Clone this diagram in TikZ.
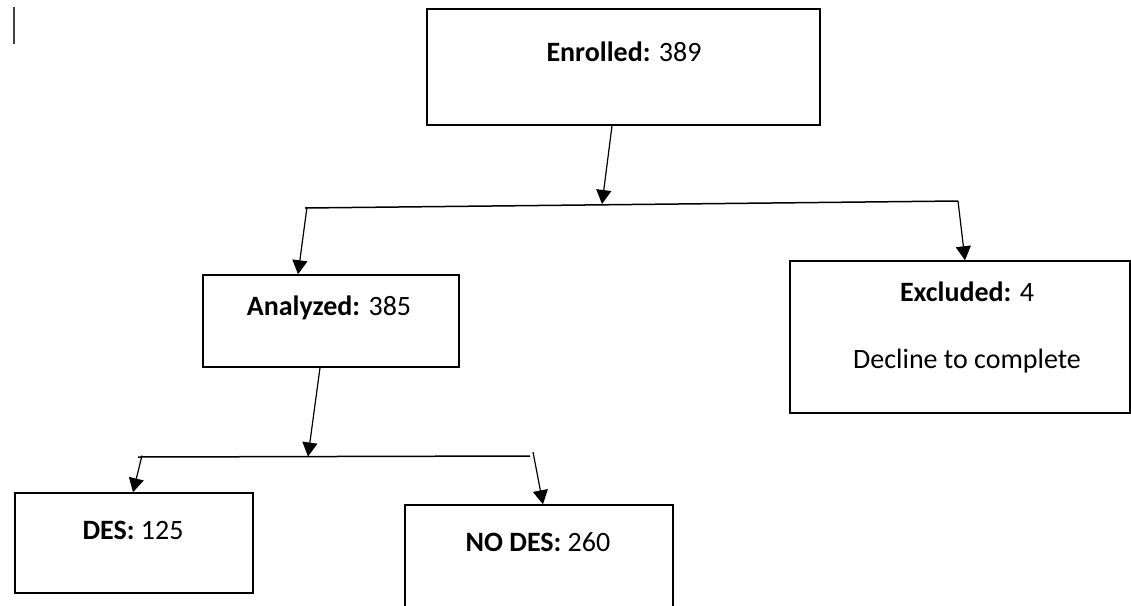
\documentclass[tikz,border=0pt]{standalone}
\usepackage{fontspec}
\setmainfont{Carlito}
\usetikzlibrary{arrows.meta}
\begin{document}
\begin{tikzpicture}[x=1pt,y=-1pt,
  box/.style={draw=black, line width=1.5pt, inner sep=0pt, rectangle},
  lbl/.style={inner sep=0pt, font=\fontsize{28}{32}\selectfont, text=black},
  bar/.style={draw=black, line width=1.5pt},
  arr/.style={draw=black, line width=1.2pt, -{Triangle[length=14pt,width=15pt]}}]
\useasboundingbox (0,0) rectangle (1131,605);
\clip (0,0) rectangle (1131,605);
\fill[white] (0,0) rectangle (1131,605);
% cursor mark
\draw[line width=2pt, black!75] (14,7) -- (14,44);
% boxes
\node[box, minimum width=393pt, minimum height=116pt] (enr) at (623.5,67) {};
\node[box, minimum width=256pt, minimum height=92pt] (ana) at (331,321) {};
\node[box, minimum width=340pt, minimum height=152pt] (exc) at (960,337) {};
\node[box, minimum width=238pt, minimum height=100pt] (des) at (134,543) {};
\node[box, minimum width=268pt, minimum height=140pt] (nodes) at (539,575) {};
% labels
\node[lbl] (tenr) at (624,52) {\textbf{Enrolled:} 389};
\node[lbl] (tana) at (329,308) {\textbf{Analyzed:} 385};
\node[lbl] (texc) at (967,292) {\textbf{Excluded:} 4};
\node[lbl] (texc2) at (967,361) {Decline to complete};
\node[lbl] (tdes) at (133,530) {\textbf{DES:} 125};
\node[lbl] (tnodes) at (538,542) {\textbf{NO DES:} 260};
% branch bars
\coordinate (b1L) at (305,208);
\coordinate (b1R) at (958,201);
\coordinate (b1M) at (602,204);
\coordinate (b2L) at (138,457);
\coordinate (b2R) at (530,456);
\coordinate (b2M) at (308,456.5);
\draw[bar] (b1L) -- (b1R);
\draw[bar] (b2L) -- (b2R);
% arrows
\draw[arr] ([xshift=-11.5pt]enr.south) -- (b1M);
\draw[arr] ([xshift=2pt,yshift=1pt]b1L) -- ([xshift=-33pt]ana.north);
\draw[arr] (b1R) -- ([xshift=5pt]exc.north);
\draw[arr] ([xshift=-11pt]ana.south) -- (b2M);
\draw[arr] ([xshift=4pt,yshift=1.5pt]b2L) -- ([xshift=-1pt]des.north);
\draw[arr] ([xshift=3pt,yshift=4pt]b2R) -- ([xshift=4pt]nodes.north);
\end{tikzpicture}
\end{document}
